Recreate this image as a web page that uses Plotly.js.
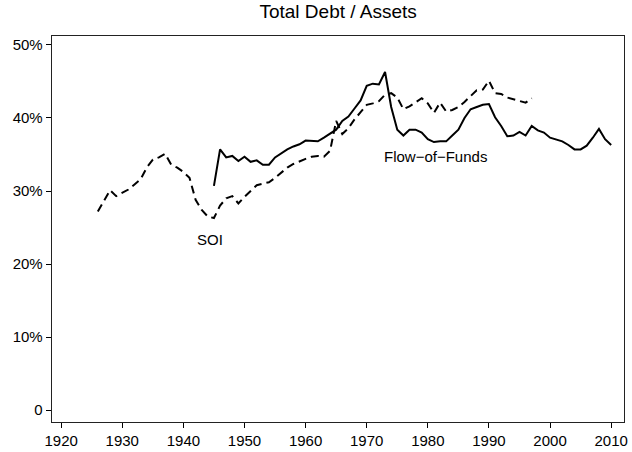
<!DOCTYPE html>
<html>
<head>
<meta charset="utf-8">
<script src="https://cdn.plot.ly/plotly-3.0.1.min.js"></script>
<style>html,body{margin:0;padding:0;background:#fff;}#chart{width:632px;height:452px;}</style>
</head>
<body>
<div id="chart"></div>
<script>
// SOI series (dashed), debt/assets in %
const soiYears = [1926,1927,1928,1929,1930,1931,1932,1933,1934,1935,1936,1937,1938,1939,1940,1941,1942,1943,1944,1945,1946,1947,1948,1949,1950,1951,1952,1953,1954,1955,1956,1957,1958,1959,1960,1961,1962,1963,1964,1965,1966,1967,1968,1969,1970,1971,1972,1973,1974,1975,1976,1977,1978,1979,1980,1981,1982,1983,1984,1985,1986,1987,1988,1989,1990,1991,1992,1993,1994,1995,1996,1997];
const soiValues = [27.2,28.6,30.1,29.3,29.8,30.2,30.9,31.6,33.2,34.3,34.6,35.1,33.6,33.2,32.6,31.8,28.8,27.4,26.5,26.3,28.0,29.0,29.3,28.3,29.2,30.0,30.8,31.0,31.2,31.8,32.5,33.2,33.7,34.1,34.4,34.7,34.8,34.7,35.5,39.6,37.8,38.6,39.8,40.8,41.8,42.0,42.3,43.2,43.4,42.8,41.2,41.6,42.2,42.7,42.0,40.7,42.1,40.9,41.1,41.5,42.2,43.0,43.8,43.9,45.1,43.4,43.3,42.8,42.6,42.4,42.1,42.7];

// Flow-of-Funds series (solid)
const fofYears = [1945,1946,1947,1948,1949,1950,1951,1952,1953,1954,1955,1956,1957,1958,1959,1960,1961,1962,1963,1964,1965,1966,1967,1968,1969,1970,1971,1972,1973,1974,1975,1976,1977,1978,1979,1980,1981,1982,1983,1984,1985,1986,1987,1988,1989,1990,1991,1992,1993,1994,1995,1996,1997,1998,1999,2000,2001,2002,2003,2004,2005,2006,2007,2008,2009,2010];
const fofValues = [30.7,35.7,34.6,34.8,34.1,34.7,34.0,34.2,33.6,33.6,34.6,35.2,35.7,36.1,36.4,36.9,36.8,36.8,37.3,37.8,38.4,39.6,40.2,41.3,42.4,44.4,44.7,44.6,46.3,41.5,38.4,37.6,38.4,38.4,38.0,37.1,36.7,36.8,36.8,37.6,38.4,40.0,41.2,41.5,41.8,41.9,40.1,38.9,37.5,37.6,38.1,37.6,38.9,38.3,38.0,37.3,37.0,36.8,36.3,35.7,35.7,36.2,37.3,38.5,37.1,36.3];

const xTicks = [1920,1930,1940,1950,1960,1970,1980,1990,2000,2010];
const yTicks = [0,10,20,30,40,50];
const yTickLabels = ["0","10%","20%","30%","40%","50%"];

const titleText = "Total Debt / Assets";
const labelSOI = "SOI";
const labelFoF = "Flow\u2212of\u2212Funds";

const FONT = "Liberation Sans, Arial, sans-serif";

const traces = [
  {x: soiYears, y: soiValues, type: "scatter", mode: "lines", name: "SOI",
   line: {color: "#000", width: 2, dash: "8px,5px"}, hoverinfo: "skip"},
  {x: fofYears, y: fofValues, type: "scatter", mode: "lines", name: "Flow-of-Funds",
   line: {color: "#000", width: 2}, hoverinfo: "skip"}
];

const layout = {
  width: 632, height: 452,
  margin: {l: 52, r: 8, t: 36, b: 30, pad: 0},
  paper_bgcolor: "#fff", plot_bgcolor: "#fff",
  showlegend: false,
  font: {family: FONT, color: "#000", size: 15},
  title: {text: titleText, x: 0.535, xanchor: "center", y: 0.975, yanchor: "middle",
          font: {family: FONT, size: 19, color: "#000"}},
  xaxis: {range: [1918.5, 2012.1], tickvals: xTicks, ticktext: xTicks.map(String),
          ticks: "outside", ticklen: 5, tickwidth: 1, tickcolor: "#000",
          showline: true, linecolor: "#222", linewidth: 1.3, mirror: true,
          showgrid: false, zeroline: false, tickfont: {family: FONT, size: 15, color: "#000"}},
  yaxis: {range: [-1.64, 51.23], tickvals: yTicks, ticktext: yTickLabels,
          ticks: "outside", ticklen: 5, tickwidth: 1, tickcolor: "#000",
          showline: true, linecolor: "#222", linewidth: 1.3, mirror: true,
          showgrid: false, zeroline: false, tickfont: {family: FONT, size: 15, color: "#000"}},
  annotations: [
    {x: 1944.4, y: 23.3, xref: "x", yref: "y", text: labelSOI, showarrow: false,
     font: {family: FONT, size: 15, color: "#000"}},
    {x: 1981.3, y: 34.7, xref: "x", yref: "y", text: labelFoF, showarrow: false,
     font: {family: FONT, size: 15, color: "#000"}}
  ]
};

Plotly.newPlot("chart", traces, layout, {staticPlot: true, displayModeBar: false});
</script>
</body>
</html>
